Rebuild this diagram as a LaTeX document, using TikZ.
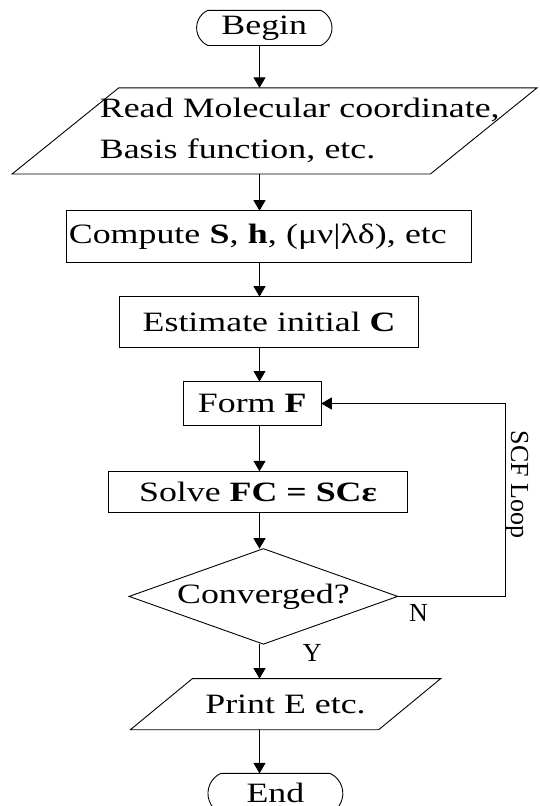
\documentclass[tikz,border=0pt]{standalone}
\usepackage{fontspec}
\setmainfont{Liberation Serif}[FakeStretch=1.28]
\newfontfamily\plainserif{Liberation Serif}
\usepackage{tikz}
\usetikzlibrary{shapes.geometric,shapes.misc,arrows.meta,positioning,calc}

\begin{document}
\begin{tikzpicture}[
  x=1pt,y=-1pt,
  edgeline/.style={line width=0.9pt},
  box/.style={edgeline,inner sep=2pt,outer sep=0pt,align=center,font=\fontsize{28}{41}\selectfont},
  term/.style={box,draw,rounded rectangle,rounded rectangle arc length=130},
  proc/.style={box,draw,rectangle},
  dec/.style={box,draw,diamond,aspect=2.8,inner sep=0pt},
  io/.style={box,append after command={\pgfextra{\draw[edgeline]
      ($(\tikzlastnode.north west)+(#1,0)$) -- ($(\tikzlastnode.north east)+(#1,0)$) --
      ($(\tikzlastnode.south east)-(#1,0)$) -- ($(\tikzlastnode.south west)-(#1,0)$) -- cycle;}}},
  arrow/.style={edgeline,-{Triangle[length=10.5pt,width=12pt]}},
  lbl/.style={font=\plainserif\fontsize{26}{30}\selectfont,inner sep=0pt}
]
  \useasboundingbox (0,0) rectangle (540,806);
  \coordinate (ax) at (259.5,0);
  \coordinate (loop) at (505.2,0);

  \node[term,minimum width=139.4pt,minimum height=35.2pt] (start) at (264.3,27.9) {Begin};
  \node[io=53.3,inner xsep=34.4pt,text width=349.5pt,align=left,minimum height=86.1pt] (read) at (274.6,130.9)
    {\mbox{Read Molecular coordinate,}\\\mbox{Basis function, etc.}};
  \node[proc,inner xsep=2.8pt,text width=399.4pt,align=left,minimum height=51.6pt] (comp) at (268.6,236.5)
    {Compute \textbf{S}, \textbf{h}, (μν|λδ), etc};
  \node[proc,minimum width=298.6pt,minimum height=50.7pt] (est) at (269.1,322) {Estimate initial \textbf{C}};
  \node[proc,minimum width=138.1pt,minimum height=44pt] (form) at (252.2,403.5) {Form \textbf{F}};
  \node[proc,minimum width=298.9pt,minimum height=41.3pt] (solve) at (258,492) {Solve \textbf{FC = SCε}};
  \node[dec,minimum width=268.6pt,minimum height=95.4pt] (conv) at (263.4,596.4) {Converged?};
  \node[io=31,minimum width=248.3pt,minimum height=51.1pt] (print) at (285.5,704.2) {Print E etc.};
  \node[term,minimum width=138.9pt,minimum height=40pt] (stop) at (275.4,793.4) {End};

  \draw[arrow] (start.south -| ax) -- (read.north -| ax);
  \draw[arrow] (read.south -| ax) -- (comp.north -| ax);
  \draw[arrow] (comp.south -| ax) -- (est.north -| ax);
  \draw[arrow] (est.south -| ax) -- (form.north -| ax);
  \draw[arrow] (form.south -| ax) -- (solve.north -| ax);
  \draw[arrow] (solve.south -| ax) -- (conv.north -| ax);
  \draw[arrow] (conv.south -| ax) node[lbl,anchor=north west,xshift=43pt] {Y} -- (print.north -| ax);
  \draw[arrow] (print.south -| ax) -- (stop.north -| ax);
  \draw[arrow] (conv.east) node[lbl,anchor=north west,xshift=11pt,yshift=-7.6pt] {N}
    -| node[lbl,rotate=-90,anchor=south,pos=0.79] {SCF Loop} (loop |- form.east) -- (form.east);
\end{tikzpicture}
\end{document}
